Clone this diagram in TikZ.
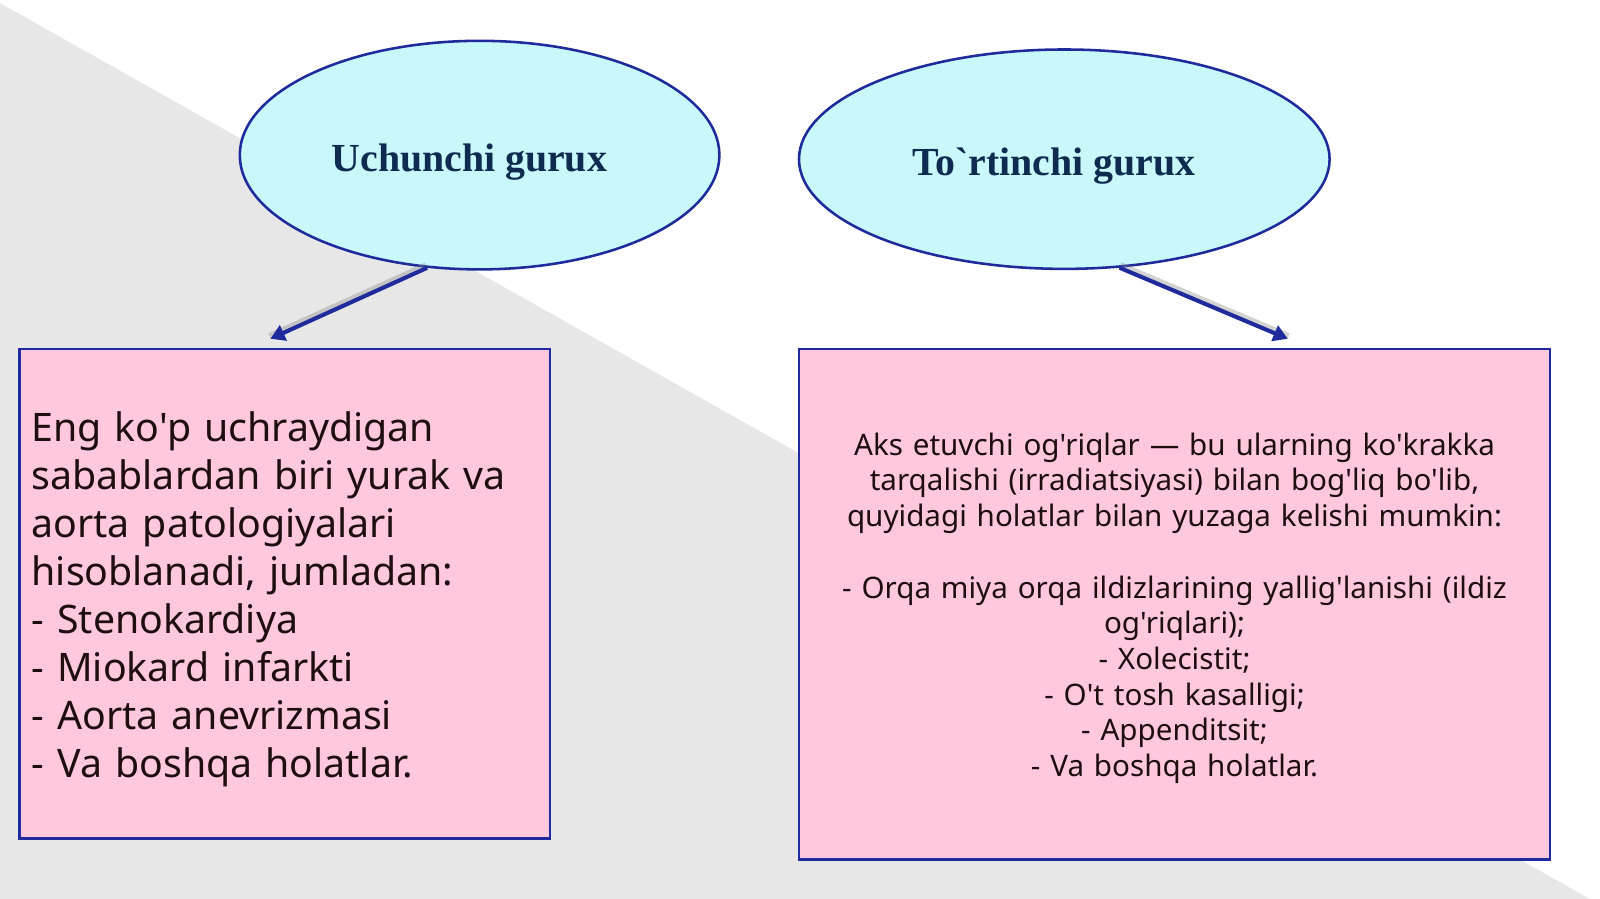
\documentclass[tikz,border=0pt]{standalone}
\usepackage{fontspec}
\usepackage{tikz}
\usetikzlibrary{shapes.geometric,arrows.meta,positioning}
\newfontfamily\titlefont{Liberation Serif}
\newfontfamily\bodyfont{Noto Sans}
\definecolor{bgGray}{HTML}{E7E7E7}
\definecolor{ovalFill}{HTML}{C8F8FA}
\definecolor{edgeBlue}{HTML}{1F2A9C}
\definecolor{boxPink}{HTML}{FFC8DC}
\definecolor{titleNavy}{HTML}{0F2B50}
\definecolor{bodyInk}{HTML}{1E0E10}
\newcommand{\ovaltext}[1]{\raisebox{-7pt}[\height][\depth]{\hspace*{-20pt}#1}}
\tikzset{
	oval/.style={ellipse, draw=edgeBlue, line width=2.5pt, fill=ovalFill, inner sep=0pt, text=titleNavy, font=\titlefont\bfseries\fontsize{39}{45}\selectfont},
	infobox/.style={rectangle, draw=edgeBlue, line width=2.8pt, fill=boxPink},
	boxtext/.style={inner sep=0pt, text=bodyInk},
	pointer/.style={draw=edgeBlue, line width=4pt, -{Triangle[length=14pt,width=16pt]}},
	pointershade/.style={draw=gray, opacity=0.35, line width=5pt},
}
\begin{document}
\begin{tikzpicture}[x=1pt, y=-1pt]
				\fill[white] (0,0) rectangle (1568,881);
				\useasboundingbox (0,0) rectangle (1568,881);
				\fill[bgGray] (0,3) -- (1558,881) -- (0,881) -- cycle;
				\node[oval, minimum width=470, minimum height=224] (uch) at (470,152) {\ovaltext{Uchunchi gurux}};
				\node[oval, minimum width=520, minimum height=215] (tort) at (1043,156) {\ovaltext{To`rtinchi gurux}};
				\node[infobox, minimum width=520, minimum height=480] (sababL) at (279,582) {};
				\node[infobox, minimum width=736, minimum height=500] (sababR) at (1151,592) {};
				\node[boxtext, text width=496, align=left, font=\bodyfont\fontsize{38.5}{47}\selectfont] (matnL) at ([yshift=-5pt]sababL.center) {Eng ko'p uchraydigan\\sabablardan biri yurak va\\aorta patologiyalari\\hisoblanadi, jumladan:\\- Stenokardiya\\- Miokard infarkti\\- Aorta anevrizmasi\\- Va boshqa holatlar.};
				\node[boxtext, text width=712, align=center, font=\bodyfont\fontsize{29}{35}\selectfont] (matnR) at ([yshift=-4pt]sababR.center) {Aks etuvchi og'riqlar — bu ularning ko'krakka\\tarqalishi (irradiatsiyasi) bilan bog'liq bo'lib,\\quyidagi holatlar bilan yuzaga kelishi mumkin:\\[35pt]- Orqa miya orqa ildizlarining yallig'lanishi (ildiz\\og'riqlari);\\- Xolecistit;\\- O't tosh kasalligi;\\- Appenditsit;\\- Va boshqa holatlar.};
				\coordinate (tipL) at (265,332);
				\coordinate (tipR) at (1262,332);
				\draw[pointershade] ([shift={(-1,-3)}]uch.245) -- ([shift={(-1,-3)}]tipL);
				\draw[pointershade] ([shift={(1,-3)}]tort.297) -- ([shift={(1,-3)}]tipR);
				\draw[pointer] (uch.245) -- (tipL);
				\draw[pointer] (tort.297) -- (tipR);
			\end{tikzpicture}
\end{document}
